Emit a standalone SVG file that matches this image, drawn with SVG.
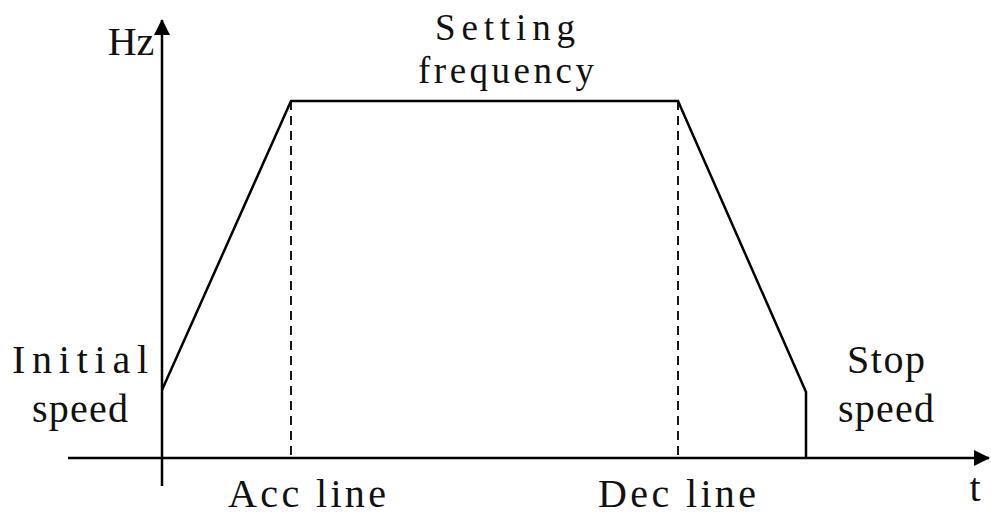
<svg xmlns="http://www.w3.org/2000/svg" width="991" height="517" viewBox="0 0 991 517">
<style>
.ln{stroke:#000;stroke-width:2.5;fill:none}
.ds{stroke:#000;stroke-width:1.8;fill:none;stroke-dasharray:9,6}
text{font-family:"Liberation Serif","DejaVu Serif",serif;font-size:40px;fill:#111;text-anchor:middle}
.sm{font-size:37px}
</style>
<defs>
<marker id="ah" markerWidth="16" markerHeight="16" refX="15" refY="8" orient="auto" markerUnits="userSpaceOnUse" viewBox="0 0 16 16">
<path d="M0,0 L16,8 L0,16 Z" fill="#000"/>
</marker>
</defs>
<rect width="991" height="517" fill="#fff"/>
<g id="connectors">
<line class="ln" x1="162" y1="486" x2="162" y2="20" marker-end="url(#ah)"/>
<line class="ln" x1="68" y1="458" x2="989" y2="458" marker-end="url(#ah)"/>
<polyline class="ln" points="162,390 291,101 678,101 806,392 806,458"/>
<line class="ds" x1="291" y1="101" x2="291" y2="458"/>
<line class="ds" x1="678" y1="101" x2="678" y2="458"/>
</g>
<g id="label-hz"><text x="131" y="55">Hz</text></g>
<g id="label-setting"><text class="sm" x="505" y="40" textLength="140" lengthAdjust="spacing">Setting</text><text class="sm" x="506" y="83" textLength="176" lengthAdjust="spacing">frequency</text></g>
<g id="label-initial"><text x="80" y="373" textLength="136" lengthAdjust="spacing">Initial</text><text x="80" y="422" textLength="96" lengthAdjust="spacing">speed</text></g>
<g id="label-stop"><text x="886" y="373" textLength="78" lengthAdjust="spacing">Stop</text><text x="886" y="422" textLength="96" lengthAdjust="spacing">speed</text></g>
<g id="label-acc"><text x="307" y="507" textLength="158" lengthAdjust="spacing">Acc line</text></g>
<g id="label-dec"><text x="677" y="507" textLength="158" lengthAdjust="spacing">Dec line</text></g>
<g id="label-t"><text x="975" y="501">t</text></g>
</svg>
